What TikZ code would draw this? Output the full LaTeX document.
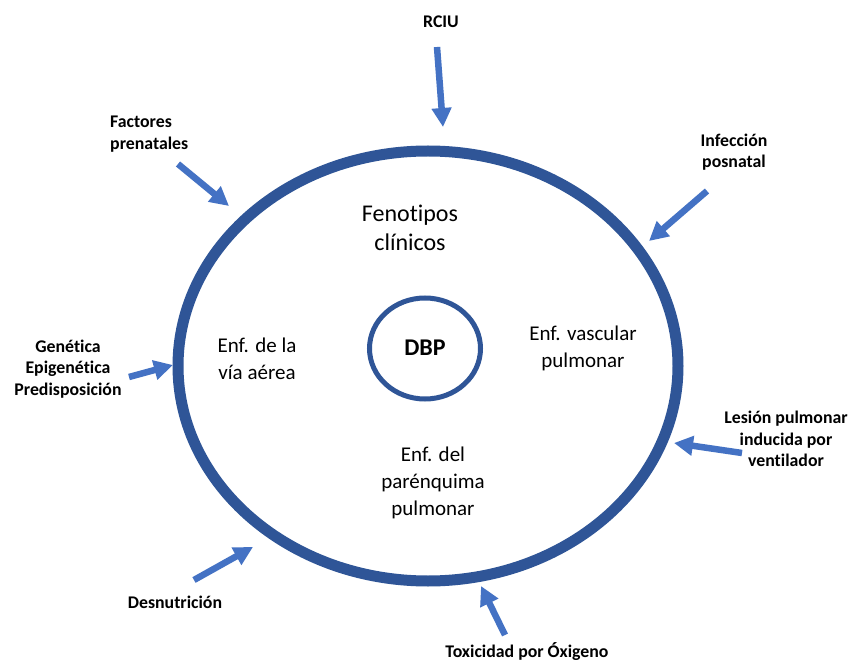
\documentclass[tikz,border=0pt]{standalone}
\usepackage{fontspec}
\setmainfont{Carlito}[RawFeature=-liga]
\usetikzlibrary{shapes.geometric,arrows.meta}
\definecolor{ringblue}{RGB}{47,85,151}
\definecolor{arrblue}{RGB}{68,114,196}
\begin{document}
\begin{tikzpicture}[x=1pt,y=-1pt,
  ring/.style={draw=ringblue, ellipse, inner sep=0pt, outer sep=0pt},
  arr/.style={draw=arrblue, line width=6.5pt, -{Triangle[width=19pt,length=19pt]}},
  lab/.style={font=\fontsize{17.8}{21.5}\selectfont\bfseries, align=center, inner sep=0pt},
  big/.style={font=\fontsize{21}{27}\selectfont, align=center, inner sep=0pt}]
\useasboundingbox[fill=white] (0,0) rectangle (852,663);

% rings
\node[ring, line width=11pt, minimum width=500pt, minimum height=430pt] (outer) at (428,366) {};
\node[ring, line width=5pt, minimum width=111pt, minimum height=101pt] (inner) at (425,348.5) {};

% inner texts
\node[inner sep=0pt, font=\fontsize{24}{29}\selectfont\bfseries] (dbp) at (425,348) {DBP};
\node[big, font=\fontsize{24}{29}\selectfont] (feno) at (410,228) {Fenotipos\\clínicos};
\node[big] (via) at (257,359) {Enf. de la\\vía aérea};
\node[big] (vasc) at (583,348) {Enf. vascular\\pulmonar};
\node[big] (par) at (433,483) {Enf. del\\parénquima\\pulmonar};

% outer labels
\node[lab] (rciu) at (441,22) {RCIU};
\node[lab, align=left, anchor=west] (fact) at (110,134) {Factores\\prenatales};
\node[lab] (inf) at (734,152) {Infección\\posnatal};
\node[lab] (gen) at (68,369) {Genética\\Epigenética\\Predisposición};
\node[lab] (les) at (786,439) {Lesión pulmonar\\inducida por\\ventilador};
\node[lab] (desn) at (175,602) {Desnutrición};
\node[lab] (tox) at (527,652) {Toxicidad por Óxigeno};

% arrow end points
\coordinate (rciuS) at (437,47);   \coordinate (rciuE) at (443,127);
\coordinate (factS) at (178,164);  \coordinate (factE) at (229,206);
\coordinate (infS) at (707,191);   \coordinate (infE) at (649,241);
\coordinate (genS) at (129,377);   \coordinate (genE) at (173,365);
\coordinate (lesS) at (742,453);   \coordinate (lesE) at (674,443);
\coordinate (desnS) at (194,580);  \coordinate (desnE) at (253,547);
\coordinate (toxS) at (505,635);   \coordinate (toxE) at (481,586);

\draw[arr] (rciuS) -- (rciuE);
\draw[arr] (factS) -- (factE);
\draw[arr] (infS) -- (infE);
\draw[arr] (genS) -- (genE);
\draw[arr] (lesS) -- (lesE);
\draw[arr] (desnS) -- (desnE);
\draw[arr] (toxS) -- (toxE);
\end{tikzpicture}
\end{document}
